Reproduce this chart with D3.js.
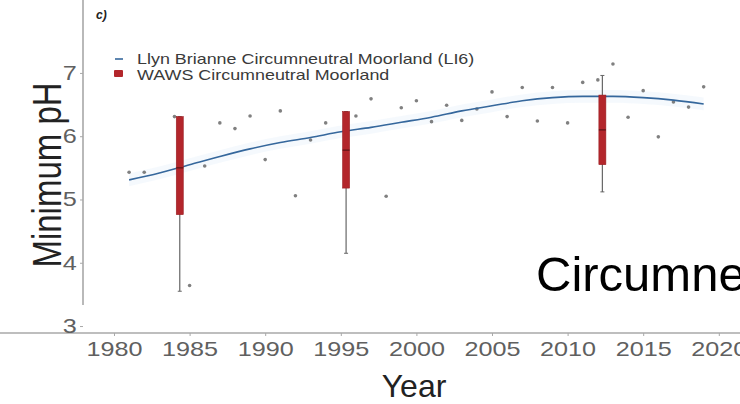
<!DOCTYPE html>
<html>
<head>
<meta charset="utf-8">
<script src="https://cdn.jsdelivr.net/npm/d3@7"></script>
<style>
  html, body { margin: 0; padding: 0; background: #fff; }
  svg { display: block; font-family: "Liberation Sans", Arial, sans-serif; }
</style>
</head>
<body>
<svg id="chart" width="740" height="404"></svg>
<script>
// ---- data ----
const pointYears  = [1981,1982,1984,1985,1986,1987,1988,1989,1990,1991,1992,1993,1994,1996,1997,1998,1999,2000,2001,2002,2003,2004,2005,2006,2007,2008,2009,2010,2011,2012,2013,2014,2015,2016,2017,2018,2019];
const pointValues = [5.43,5.43,6.31,3.64,5.53,6.21,6.12,6.32,5.63,6.40,5.06,5.94,6.21,6.32,6.59,5.05,6.45,6.56,6.23,6.49,6.25,6.43,6.70,6.31,6.77,6.24,6.77,6.21,6.85,6.89,7.14,6.30,6.72,5.99,6.54,6.46,6.78];

const smoothYears  = [1981,1983,1985,1987,1989,1991,1993,1995,1997,1999,2001,2003,2005,2007,2009,2011,2013,2015,2017,2019];
const smoothValues = [5.31,5.42,5.55,5.68,5.80,5.90,5.98,6.07,6.14,6.22,6.30,6.40,6.48,6.56,6.61,6.63,6.63,6.61,6.57,6.51];

const boxYears = [1984.35, 1995.35, 2012.3];
const boxMin   = [3.55, 4.15, 5.12];
const boxQ1    = [4.76, 5.18, 5.55];
const boxMed   = [5.50, 5.78, 6.10];
const boxQ3    = [6.31, 6.39, 6.65];
const boxMax   = [6.31, 6.39, 6.96];

const xTicks = [1980,1985,1990,1995,2000,2005,2010,2015,2020];
const yTicks = [3,4,5,6,7];

const legendLabels = ["Llyn Brianne Circumneutral Moorland (LI6)", "WAWS Circumneutral Moorland"];
const panelLabel = "c)";
const xTitle = "Year";
const yTitle = "Minimum pH";
const overlayText = "Circumneutral Moorland";

// ---- scales ----
const svg = d3.select("#chart");
const x = d3.scaleLinear().domain([1977.95, 2022.5]).range([83, 756.6]);
const y = d3.scaleLinear().domain([2.89, 7.71]).range([333, 28]);
const SX = 1.26; // horizontal stretch of the original figure's text

// confidence band
const band = d3.area()
  .x((d,i) => x(smoothYears[i]))
  .y0((d,i) => y(smoothValues[i] - 0.1))
  .y1((d,i) => y(smoothValues[i] + 0.1))
  .curve(d3.curveMonotoneX);
svg.append("path").datum(smoothValues).attr("d", band)
  .attr("fill", "#e3eff9").attr("opacity", 0.35);

// points
svg.append("g").selectAll("circle").data(pointYears).join("circle")
  .attr("cx", (d) => x(d))
  .attr("cy", (d,i) => y(pointValues[i]))
  .attr("r", 1.8)
  .attr("fill", "#606060").attr("opacity", 0.8);

// smooth line
const line = d3.line()
  .x((d,i) => x(smoothYears[i]))
  .y((d,i) => y(smoothValues[i]))
  .curve(d3.curveMonotoneX);
svg.append("path").datum(smoothValues).attr("d", line)
  .attr("fill", "none").attr("stroke", "#35679c").attr("stroke-width", 1.6);

// boxplots
const bw = 7;
const bg = svg.append("g");
boxYears.forEach((yr, i) => {
  const cx = x(yr);
  bg.append("line").attr("x1", cx).attr("x2", cx)
    .attr("y1", y(boxMin[i])).attr("y2", y(boxMax[i]))
    .attr("stroke", "#666").attr("stroke-width", 1.2);
  [boxMin[i], boxMax[i]].forEach(v => {
    bg.append("line").attr("x1", cx - 2).attr("x2", cx + 2)
      .attr("y1", y(v)).attr("y2", y(v))
      .attr("stroke", "#666").attr("stroke-width", 1);
  });
  bg.append("rect").attr("x", cx - bw/2).attr("width", bw)
    .attr("y", y(boxQ3[i])).attr("height", y(boxQ1[i]) - y(boxQ3[i]))
    .attr("fill", "#b3262b").attr("stroke", "#9a1f24").attr("stroke-width", 0.6);
  bg.append("line").attr("x1", cx - bw/2).attr("x2", cx + bw/2)
    .attr("y1", y(boxMed[i])).attr("y2", y(boxMed[i]))
    .attr("stroke", "#5a1215").attr("stroke-width", 1.2);
});

// axes
const xAxis = svg.append("g").attr("transform", "translate(0,333)")
  .call(d3.axisBottom(x).tickValues(xTicks).tickFormat(d3.format("d")).tickSize(3).tickSizeOuter(0));
const yAxis = svg.append("g").attr("transform", "translate(83,0)")
  .call(d3.axisLeft(y).tickValues(yTicks).tickFormat(d3.format("d")).tickSize(3).tickSizeOuter(0));
[xAxis, yAxis].forEach(a => {
  a.select(".domain").attr("stroke", "#a8a8a8").attr("stroke-width", 1.6);
  a.selectAll(".tick line").attr("stroke", "#a8a8a8");
  a.selectAll(".tick text").attr("fill", "#606060")
    .style("font-family", "'Liberation Sans', Arial, sans-serif").style("font-size", "20px");
});
// extend domain lines to full plot
xAxis.select(".domain").attr("d", "M0,0H760");
yAxis.select(".domain").attr("d", "M0,-5V305");
xAxis.selectAll(".tick text").attr("y", 9).attr("dy", "0.71em")
  .attr("transform", `scale(${SX},1)`);
yAxis.selectAll(".tick text").attr("x", -5)
  .attr("transform", `scale(${SX},1)`);

// axis titles
svg.append("text").attr("x", 414).attr("y", 397)
  .attr("text-anchor", "middle").style("font-size", "32px").attr("fill", "#222").text(xTitle);
svg.append("text").attr("transform", `translate(61,175) scale(${SX},1) rotate(-90)`)
  .attr("text-anchor", "middle").style("font-size", "33px").attr("fill", "#222").text(yTitle);

// panel label
svg.append("text").attr("x", 96).attr("y", 19)
  .style("font-size", "12px").style("font-weight", "bold").style("font-style", "italic")
  .attr("fill", "#222").text(panelLabel);

// legend
const lg = svg.append("g");
lg.append("line").attr("x1", 115).attr("x2", 123).attr("y1", 59).attr("y2", 59)
  .attr("stroke", "#35679c").attr("stroke-width", 1.6);
lg.append("rect").attr("x", 114).attr("y", 70).attr("width", 9).attr("height", 7).attr("rx", 1)
  .attr("fill", "#b3262b");
legendLabels.forEach((t, i) => {
  lg.append("text").attr("transform", `translate(137,${64 + i*16}) scale(1.28,1)`)
    .style("font-size", "14px").attr("fill", "#3a3a3a").text(t);
});

// overlay large text (clipped at the right edge, as in the reference)
svg.append("text").attr("x", 536).attr("y", 291)
  .style("font-size", "49px").attr("fill", "#000").text(overlayText);
</script>
</body>
</html>
